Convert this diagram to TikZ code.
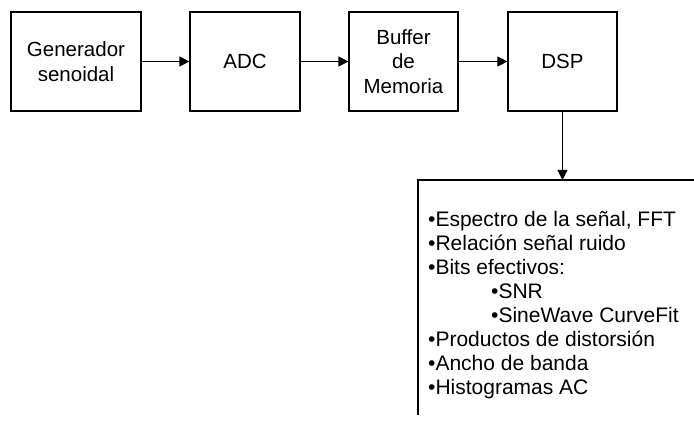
\documentclass[tikz,border=0pt]{standalone}
\usepackage{fontspec}
\setmainfont{Liberation Sans}
\usetikzlibrary{arrows.meta,positioning,calc}

\tikzset{
    bloco/.style={draw, line width=1.2pt, minimum height=99pt, inner sep=0pt,
        align=center, font=\fontsize{20.5}{24.5}\selectfont},
    seta/.style={-{Triangle[length=10pt,width=10pt]}, line width=1.2pt},
    moldura/.style={line width=1.2pt},
    lista/.style={align=left, inner sep=0pt, font=\fontsize{21}{24}\selectfont}
}

\begin{document}
\begin{tikzpicture}[x=1pt,y=-1pt]
        \useasboundingbox (0,0) rectangle (694,425);

        % Blocos da cadeia de medida
        \node[bloco, minimum width=130pt] (gen) at (76,61.5) {Generador\\senoidal};
        \node[bloco, minimum width=110pt] (adc) at (245,61.5) {ADC};
        \node[bloco, minimum width=109pt] (buf) at (403.5,61.5) {Buffer\\de\\Memoria};
        \node[bloco, minimum width=109pt] (dsp) at (562.5,61.5) {DSP};

        % Setas entre blocos
        \draw[seta] (gen) -- (adc);
        \draw[seta] (adc) -- (buf);
        \draw[seta] (buf) -- (dsp);

        % Caixa de resultados (cortada na margem)
        \node[anchor=north west, minimum width=300pt, minimum height=235pt, inner sep=0pt] (res) at (418,180) {};
        \draw[moldura] (res.south west) -- (res.north west) -- (res.north east);
        \draw[seta] (dsp.south) -- (dsp.south |- res.north);

        % Lista de medidas
        \node[lista, anchor=north west] (itens) at ($(res.north west)+(10,31)$) {%
            •Espectro de la señal, FFT\\
            •Relación señal ruido\\
            •Bits efectivos:\\
            \hspace*{63pt}•SNR\\
            \hspace*{63pt}•SineWave CurveFit\\
            •Productos de distorsión\\
            •Ancho de banda\\
            •Histogramas AC};
    \end{tikzpicture}
\end{document}
